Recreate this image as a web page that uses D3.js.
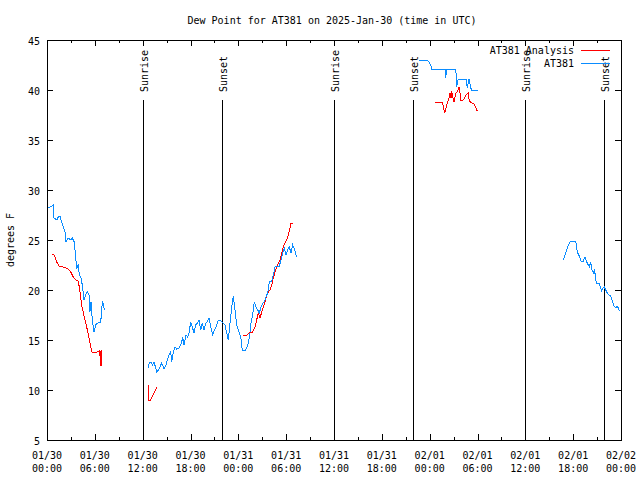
<!DOCTYPE html>
<html><head><meta charset="utf-8">
<script src="https://cdn.jsdelivr.net/npm/d3@7"></script>
<style>body{margin:0;background:#fff}svg{display:block}text{font-family:"DejaVu Sans Mono",monospace;font-size:10px;fill:#000}</style>
</head><body><svg id="c" width="640" height="480"></svg>
<script>
// hours since 2025-01-30 00:00 UTC; null breaks the line
const obsHours = [0.17,0.59,0.79,0.88,1.22,1.42,1.63,1.84,2.04,2.26,2.38,2.67,3.01,3.17,3.42,3.60,3.73,3.93,4.05,4.26,4.43,4.64,4.85,5.06,5.27,5.39,5.52,5.68,5.90,6.11,6.36,6.56,6.74,6.86,6.99,7.19,
 null,
 12.71,12.83,13.05,13.21,13.42,13.64,13.76,13.96,14.17,14.39,14.68,14.89,15.09,15.30,15.52,15.64,15.84,16.06,16.27,16.60,16.90,17.02,17.19,17.44,17.65,17.81,18.03,18.23,18.44,18.65,18.85,19.07,19.28,19.48,19.69,19.91,20.11,20.32,20.53,20.79,20.99,21.20,21.49,21.70,22.04,22.33,22.74,22.96,23.17,23.37,23.58,23.80,24.00,24.30,24.50,24.84,25.05,25.25,25.46,25.59,25.75,26.00,26.22,26.43,26.63,26.81,27.06,27.26,27.47,27.68,27.88,28.19,28.39,28.60,28.81,29.14,29.35,29.57,29.77,29.98,30.19,30.39,30.61,30.82,31.02,31.32,
 null,
 46.70,47.63,47.90,48.15,48.26,49.92,50.01,50.14,51.28,51.39,51.59,52.56,52.72,52.94,53.15,53.27,54.03,
 null,
 64.77,64.89,65.10,65.32,65.52,65.73,66.02,66.32,66.44,66.57,66.77,66.98,67.27,67.49,67.70,67.90,68.03,68.20,68.33,68.53,68.65,68.78,68.90,69.08,69.24,69.41,69.58,69.71,69.91,70.08,70.28,70.50,70.71,70.91,71.12,71.34,71.50,71.66,71.79];
const obsValues = [28.2,28.4,28.5,27.2,27.0,27.3,27.4,26.8,26.3,25.8,24.8,25.2,25.0,25.2,24.8,23.2,22.2,22.5,21.5,21.2,20.5,19.0,19.5,19.8,19.5,17.8,18.8,17.0,15.8,16.5,16.7,16.8,16.7,18.2,18.9,18.0,
 null,
 12.2,12.7,12.8,12.5,12.8,12.2,11.8,12.0,12.3,12.7,12.1,12.4,13.0,13.5,13.8,12.8,13.8,14.3,14.1,14.2,14.8,15.3,14.5,15.5,15.3,15.7,16.8,16.3,15.7,16.5,16.7,17.0,16.0,16.7,16.0,16.7,16.8,17.2,16.3,15.5,16.0,16.3,17.0,17.0,16.7,16.5,15.0,16.7,18.3,19.4,18.0,16.5,16.0,15.3,14.0,13.9,14.2,14.7,15.7,16.7,17.3,18.8,18.3,18.0,17.7,18.2,18.7,18.8,19.3,19.7,20.8,20.9,21.5,22.3,22.4,22.4,23.0,23.7,24.2,23.5,24.0,24.3,23.7,24.5,24.1,23.3,
 null,
 43.0,43.0,42.8,42.5,42.1,42.1,41.2,42.1,42.1,40.3,41.1,41.1,40.2,41.1,40.2,40.0,40.0,
 null,
 23.0,23.3,23.8,24.3,24.7,24.9,24.9,24.9,24.2,23.7,23.4,22.9,22.9,23.3,22.8,22.5,22.3,22.8,22.1,21.7,22.0,21.5,20.7,20.7,20.7,20.3,19.9,20.2,20.3,20.0,19.7,19.5,19.4,18.9,18.4,18.2,18.4,18.2,17.9];
const anaHours = [0.67,0.92,1.22,1.51,2.04,2.67,2.97,3.30,3.60,3.93,4.14,4.35,4.48,4.68,4.98,5.27,5.61,5.93,6.23,6.56,6.62,6.70,6.78,6.86,
 null,
 12.71,12.75,13.00,13.80,
 null,
 24.62,25.05,25.38,25.80,26.09,26.30,26.51,26.72,26.93,27.13,27.35,27.56,27.76,27.97,28.19,28.39,28.60,28.81,29.01,29.23,29.44,29.64,29.85,30.07,30.27,30.48,30.61,30.90,
 null,
 48.67,49.59,49.71,49.84,49.92,50.14,50.34,50.46,50.55,50.68,50.77,50.89,51.05,51.27,51.47,51.68,51.80,51.93,52.22,52.43,52.65,52.85,52.97,53.27,53.56,53.78,53.90,54.03];
const anaValues = [23.6,23.5,22.8,22.4,22.3,22.1,21.8,21.3,21.0,20.9,19.8,18.5,18.0,17.3,16.3,15.2,13.8,13.7,13.8,13.9,14.0,12.4,14.0,12.4,
 null,
 10.5,9.0,9.0,10.3,
 null,
 15.4,15.5,15.7,15.8,16.3,17.0,17.7,17.2,17.8,18.3,18.8,19.5,19.8,20.0,20.5,21.2,21.8,22.3,22.7,23.0,23.7,24.3,24.7,25.0,25.5,26.2,26.7,26.7,
 null,
 38.8,38.8,38.4,37.8,37.8,38.5,39.0,39.3,39.7,39.2,39.9,39.3,38.8,39.7,39.8,40.3,39.7,38.9,39.0,39.3,39.6,39.7,38.9,38.7,38.6,38.3,38.0,37.9];
const sunEventHours = [12.05,21.95,36.03,45.93,60.02,69.92];
const sunEventLabels = ["Sunrise","Sunset","Sunrise","Sunset","Sunrise","Sunset"];
const yTicks = [5,10,15,20,25,30,35,40,45];
const xTickHours = [0,6,12,18,24,30,36,42,48,54,60,66,72];
const xTickLabels = [["01/30","00:00"],["01/30","06:00"],["01/30","12:00"],["01/30","18:00"],["01/31","00:00"],["01/31","06:00"],["01/31","12:00"],["01/31","18:00"],["02/01","00:00"],["02/01","06:00"],["02/01","12:00"],["02/01","18:00"],["02/02","00:00"]];
const seriesNames = ["AT381 Analysis","AT381"];
const titleText = "Dew Point for AT381 on 2025-Jan-30 (time in UTC)";
const yLabel = "degrees F";

const svg = d3.select("#c");
const L=47,R=621,T=40,B=440;
const x = d3.scaleLinear().domain([0,72]).range([L,R]);
const y = d3.scaleLinear().domain([5,45]).range([B,T]);
const RED="#ff0000", BLUE="#0a8cff";

// sun event lines
sunEventHours.forEach((h,i)=>{
  const xx = Math.round(x(h))+0.5;
  svg.append("line").attr("x1",xx).attr("x2",xx).attr("y1",100).attr("y2",B).attr("stroke","#000").attr("stroke-width",1);
  svg.append("text").attr("transform",`translate(${xx+4},92) rotate(-90)`).attr("text-anchor","start").text(sunEventLabels[i]);
});

// ticks
const g = svg.append("g");
const minorX = d3.range(3,72,6);
xTickHours.forEach(h=>{const xx=Math.round(x(h))+0.5;
  g.append("line").attr("x1",xx).attr("x2",xx).attr("y1",B).attr("y2",B-6).attr("stroke","#000");
  g.append("line").attr("x1",xx).attr("x2",xx).attr("y1",T).attr("y2",T+6).attr("stroke","#000");});
minorX.forEach(h=>{const xx=Math.round(x(h))+0.5;
  g.append("line").attr("x1",xx).attr("x2",xx).attr("y1",B).attr("y2",B-3).attr("stroke","#000");
  g.append("line").attr("x1",xx).attr("x2",xx).attr("y1",T).attr("y2",T+3).attr("stroke","#000");});
yTicks.forEach(v=>{const yy=Math.round(y(v))+0.5;
  g.append("line").attr("x1",L).attr("x2",L+6).attr("y1",yy).attr("y2",yy).attr("stroke","#000");
  g.append("line").attr("x1",R).attr("x2",R-6).attr("y1",yy).attr("y2",yy).attr("stroke","#000");
  g.append("text").attr("x",40).attr("y",yy+4).attr("text-anchor","end").text(v);});
xTickHours.forEach((h,i)=>{const xx=x(h);
  g.append("text").attr("x",xx).attr("y",459).attr("text-anchor","middle").text(xTickLabels[i][0]);
  g.append("text").attr("x",xx).attr("y",472).attr("text-anchor","middle").text(xTickLabels[i][1]);});

// border
svg.append("rect").attr("x",L+0.5).attr("y",T+0.5).attr("width",R-L).attr("height",B-T).attr("fill","none").attr("stroke","#000");

// series
const line = d3.line().defined(d=>d[0]!==null&&d[1]!==null).x(d=>x(d[0])).y(d=>y(d[1]));
const ana = anaHours.map((h,i)=>[h,anaValues[i]]);
const obs = obsHours.map((h,i)=>[h,obsValues[i]]);
svg.append("path").attr("d",line(ana)).attr("fill","none").attr("stroke",RED).attr("stroke-width",1).attr("shape-rendering","crispEdges");
svg.append("path").attr("d",line(obs)).attr("fill","none").attr("stroke",BLUE).attr("stroke-width",1).attr("shape-rendering","crispEdges");

// legend
[[seriesNames[0],RED,50],[seriesNames[1],BLUE,63]].forEach(([n,c,yy])=>{
  svg.append("text").attr("x",574).attr("y",yy+4).attr("text-anchor","end").text(n);
  svg.append("line").attr("x1",581).attr("x2",610).attr("y1",yy+0.5).attr("y2",yy+0.5).attr("stroke",c).attr("stroke-width",1);
});

// title & y label
svg.append("text").attr("x",332).attr("y",24).attr("text-anchor","middle").text(titleText);
svg.append("text").attr("transform","translate(14,240) rotate(-90)").attr("text-anchor","middle").text(yLabel);
</script></body></html>
